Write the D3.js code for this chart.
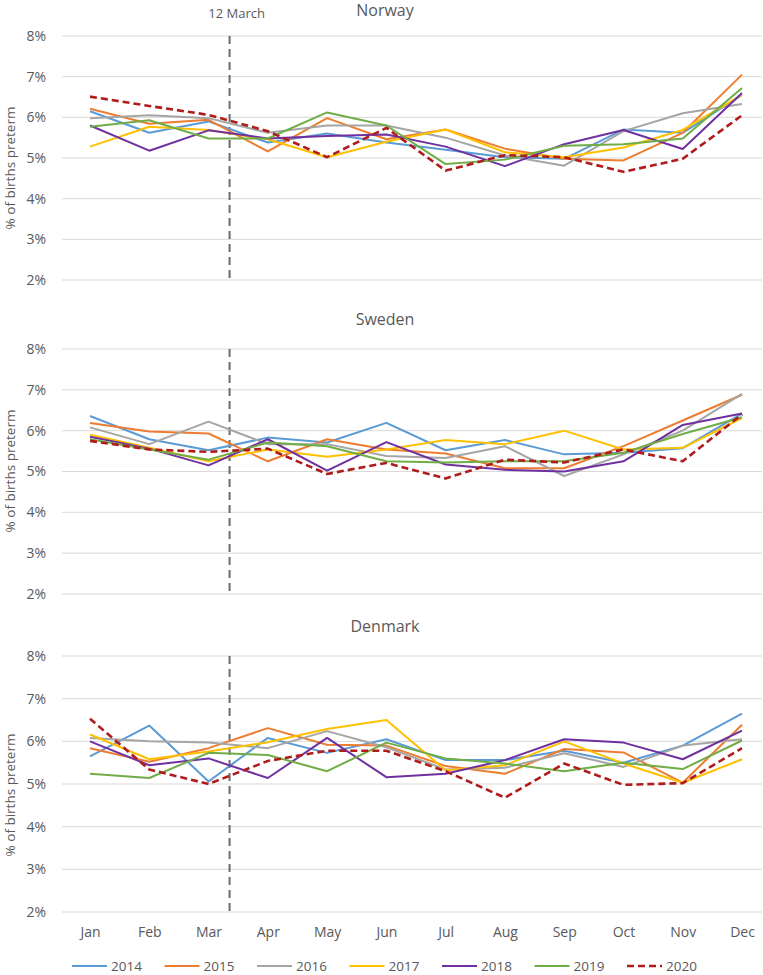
<!DOCTYPE html>
<html>
<head>
<meta charset="utf-8">
<script src="https://cdn.jsdelivr.net/npm/d3@7"></script>
<style>
  body { margin: 0; background: #fff; }
  text { font-family: "Open Sans", "Liberation Sans", sans-serif; fill: #595959; }
</style>
</head>
<body>
<div id="chart"></div>
<script>
const months = ['Jan','Feb','Mar','Apr','May','Jun','Jul','Aug','Sep','Oct','Nov','Dec'];
const years = ['2014','2015','2016','2017','2018','2019','2020'];
const yTicks = [2, 3, 4, 5, 6, 7, 8];
const colors = ['#5b9bd5','#ed7d31','#a5a5a5','#ffc000','#7030a0','#70ad47','#b01c1c'];

// % preterm, one row per year (2014..2020)
const norway = [
  [6.15,5.62,5.90,5.38,5.60,5.38,5.20,5.02,4.98,5.70,5.62,6.55],
  [6.21,5.84,5.94,5.16,5.98,5.46,5.70,5.23,4.98,4.94,5.62,7.05],
  [5.98,6.05,5.98,5.62,5.80,5.80,5.50,5.06,4.81,5.66,6.10,6.33],
  [5.28,5.77,5.69,5.46,5.02,5.40,5.70,5.14,5.02,5.26,5.69,6.55],
  [5.80,5.18,5.68,5.48,5.54,5.58,5.28,4.80,5.34,5.69,5.22,6.60],
  [5.77,5.93,5.48,5.48,6.12,5.80,4.85,4.96,5.30,5.34,5.48,6.72],
  [6.51,6.28,6.06,5.66,5.02,5.74,4.69,5.07,5.02,4.66,4.98,6.05]
];
const sweden = [
  [6.36,5.79,5.52,5.83,5.71,6.19,5.52,5.77,5.42,5.46,5.57,6.42],
  [6.19,5.98,5.93,5.25,5.79,5.54,5.44,5.08,5.08,5.62,6.25,6.88],
  [6.08,5.67,6.22,5.67,5.67,5.38,5.33,5.62,4.89,5.42,6.00,6.90],
  [5.90,5.58,5.25,5.54,5.36,5.54,5.77,5.67,6.00,5.54,5.58,6.31],
  [5.85,5.56,5.15,5.79,5.02,5.72,5.17,5.04,5.00,5.25,6.14,6.42],
  [5.79,5.54,5.29,5.71,5.62,5.25,5.22,5.25,5.25,5.46,5.92,6.33],
  [5.75,5.54,5.48,5.56,4.94,5.21,4.83,5.29,5.22,5.54,5.25,6.40]
];
const denmark = [
  [5.65,6.37,5.06,6.08,5.73,6.05,5.56,5.56,5.78,5.50,5.90,6.65],
  [5.84,5.52,5.84,6.31,5.92,5.90,5.42,5.24,5.82,5.74,5.03,6.39],
  [6.08,6.00,5.97,5.84,6.24,5.86,5.34,5.38,5.72,5.40,5.90,6.05],
  [6.16,5.58,5.76,5.98,6.29,6.50,5.32,5.44,6.00,5.48,5.03,5.58],
  [6.00,5.44,5.60,5.14,6.08,5.16,5.24,5.56,6.05,5.97,5.58,6.25],
  [5.24,5.14,5.73,5.68,5.30,5.97,5.60,5.48,5.30,5.50,5.35,6.02],
  [6.53,5.34,5.00,5.54,5.78,5.78,5.30,4.68,5.48,4.98,5.02,5.84]
];

const width = 763, height = 975;
const panels = [
  {name: 'Norway', data: norway, top: 36, bottom: 280, titleY: 16, labelY: 168},
  {name: 'Sweden', data: sweden, top: 349, bottom: 594, titleY: 325, labelY: 471},
  {name: 'Denmark', data: denmark, top: 656, bottom: 912, titleY: 632, labelY: 795}
];

const svg = d3.select('#chart').append('svg')
  .attr('width', width).attr('height', height);

const x = d3.scalePoint().domain(months).range([90, 742]);
const lockdownX = x('Mar') + (x('Apr') - x('Mar')) * 11 / 31;

panels.forEach((p, pi) => {
  const y = d3.scaleLinear().domain([2, 8]).range([p.bottom, p.top]);
  const g = svg.append('g');

  // gridlines
  g.append('g').selectAll('line').data(yTicks).join('line')
    .attr('x1', 62).attr('x2', 762)
    .attr('y1', d => y(d)).attr('y2', d => y(d))
    .attr('stroke', '#d9d9d9').attr('stroke-width', 1);

  const yAxis = d3.axisLeft(y).tickValues(yTicks).tickSize(0).tickPadding(0)
    .tickFormat(d => d + '%');
  g.append('g').attr('transform', 'translate(46,0)').call(yAxis)
    .call(a => a.select('.domain').remove())
    .selectAll('text').style('font-size', '14px').attr('fill', '#595959');

  g.append('text')
    .attr('transform', `translate(15,${p.labelY}) rotate(-90)`)
    .attr('text-anchor', 'middle')
    .style('font-size', '13.5px')
    .text('% of births preterm');

  g.append('text')
    .attr('x', 385).attr('y', p.titleY)
    .attr('text-anchor', 'middle')
    .style('font-size', '16px')
    .text(p.name);

  // 12 March marker
  g.append('line')
    .attr('x1', lockdownX).attr('x2', lockdownX)
    .attr('y1', p.top).attr('y2', p.bottom)
    .attr('stroke', '#6b6b6b').attr('stroke-width', 2)
    .attr('stroke-dasharray', '8,5');

  const line = d3.line().x((d, i) => x(months[i])).y(d => y(d));
  p.data.forEach((vals, i) => {
    g.append('path')
      .attr('d', line(vals))
      .attr('fill', 'none')
      .attr('stroke', colors[i])
      .attr('stroke-width', i === 6 ? 2.6 : 2)
      .attr('stroke-dasharray', i === 6 ? '7,4' : null)
      .attr('stroke-linejoin', 'round');
  });

  if (pi === 2) {
    const xAxis = d3.axisBottom(x).tickSize(0).tickPadding(0);
    g.append('g').attr('transform', `translate(0,${p.bottom + 15})`).call(xAxis)
      .call(a => a.select('.domain').remove())
      .selectAll('text').style('font-size', '14px').attr('fill', '#595959');
  }
});

svg.append('text')
  .attr('x', lockdownX + 7).attr('y', 18)
  .attr('text-anchor', 'middle')
  .style('font-size', '13px')
  .text('12 March');

// legend
const legend = svg.append('g').attr('transform', 'translate(72,966)');
years.forEach((yr, i) => {
  const lg = legend.append('g').attr('transform', `translate(${i * 92.5},0)`);
  lg.append('line')
    .attr('x1', 0).attr('x2', 35).attr('y1', 0).attr('y2', 0)
    .attr('stroke', colors[i])
    .attr('stroke-width', i === 6 ? 2.6 : 2)
    .attr('stroke-dasharray', i === 6 ? '7,4' : null);
  lg.append('text')
    .attr('x', 39).attr('y', 5)
    .style('font-size', '13.5px')
    .text(yr);
});
</script>
</body>
</html>
